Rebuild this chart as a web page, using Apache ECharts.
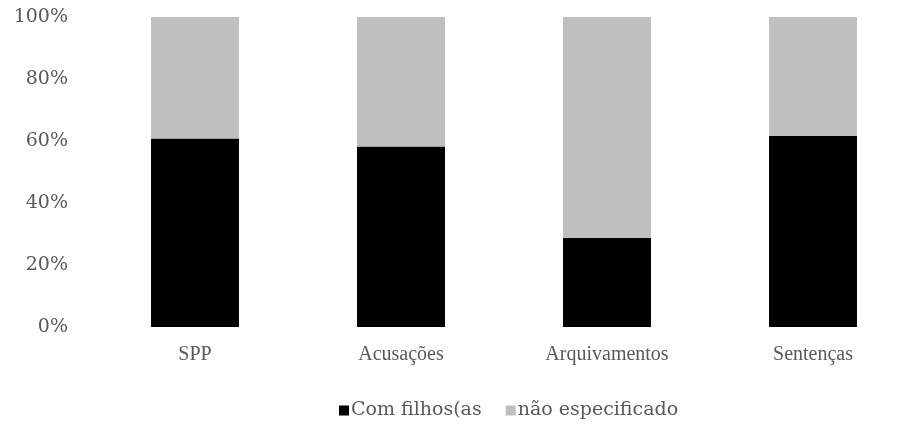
<!DOCTYPE html>
<html>
<head>
<meta charset="utf-8">
<script src="https://cdn.jsdelivr.net/npm/echarts@6/dist/echarts.min.js"></script>
<style>
  html, body { margin: 0; padding: 0; background: #fff; }
  #chart { width: 918px; height: 426px; }
</style>
</head>
<body>
<div id="chart"></div>
<script>
// Share of cases per stage, split by whether children were recorded
const categories = ['SPP', 'Acusações', 'Arquivamentos', 'Sentenças'];
const comFilhos = [60.8, 58.2, 28.7, 61.6];
const naoEspecificado = [39.2, 41.8, 71.3, 38.4];
const yTicks = [0, 20, 40, 60, 80, 100];

const fontFamily = '"DejaVu Serif", "Liberation Serif", serif';
const narrowSerif = '"Liberation Serif", "DejaVu Serif", serif';
const textColor = '#595959';

const chart = echarts.init(document.getElementById('chart'));
chart.setOption({
  animation: false,
  textStyle: { fontFamily: fontFamily },
  grid: { left: 92, right: 2, top: 17, bottom: 99, containLabel: false },
  legend: {
    bottom: 1,
    left: 334,
    itemWidth: 10,
    itemHeight: 10,
    itemGap: 24,
    icon: 'rect',
    textStyle: { fontFamily: fontFamily, fontSize: 19, color: textColor, padding: [0, 0, 0, -3] },
    data: ['Com filhos(as', 'não especificado']
  },
  xAxis: {
    type: 'category',
    data: categories,
    axisLine: { show: false },
    axisTick: { show: false },
    axisLabel: { color: textColor, fontSize: 20, margin: 18, fontFamily: narrowSerif }
  },
  yAxis: {
    type: 'value',
    min: yTicks[0],
    max: yTicks[yTicks.length - 1],
    interval: yTicks[1] - yTicks[0],
    splitLine: { show: false },
    axisLine: { show: false },
    axisTick: { show: false },
    axisLabel: {
      color: textColor,
      fontSize: 19,
      margin: 24,
      fontFamily: fontFamily,
      formatter: v => v + '%'
    }
  },
  series: [
    {
      name: 'Com filhos(as',
      type: 'bar',
      stack: 'total',
      barWidth: '42.7%',
      itemStyle: { color: '#000000' },
      data: comFilhos
    },
    {
      name: 'não especificado',
      type: 'bar',
      stack: 'total',
      barWidth: '42.7%',
      itemStyle: { color: '#bfbfbf' },
      data: naoEspecificado
    }
  ]
});
</script>
</body>
</html>
